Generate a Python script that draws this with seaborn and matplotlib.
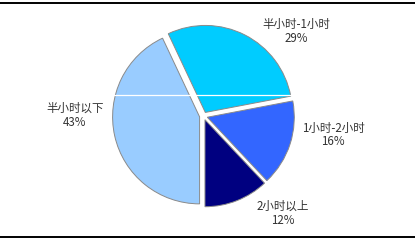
import matplotlib
matplotlib.use("Agg")
import matplotlib.pyplot as plt
import seaborn as sns

sns.set_style("white")
plt.rcParams['font.family'] = ['Noto Sans CJK SC', 'DejaVu Sans']

# Data (clockwise from just left of 12 o'clock)
categories = ["半小时-1小时", "1小时-2小时", "2小时以上", "半小时以下"]
shares = [29, 16, 12, 43]
colors = ["#00CCFF", "#3366FF", "#000080", "#99CCFF"]

W, H = 415, 240
fig = plt.figure(figsize=(W / 100, H / 100), dpi=100)
ax = fig.add_axes([0, 0, 1, 1])

cx, cy, r = 203.5, H - 116, 87
ax.pie(shares, colors=colors, startangle=115.2, counterclock=False,
       center=(cx, cy), radius=r, explode=[4] * len(shares),
       wedgeprops=dict(edgecolor="#8a8a8a", linewidth=0.7), frame=True)

ax.set_xlim(0, W)
ax.set_ylim(0, H)
ax.set_aspect('auto')
ax.axis('off')

# label positions in pixel coordinates (x, y from top)
label_pos = [(296, 31.5), (333, 135), (283, 213.5), (75, 115.5)]
for name, val, (lx, ly) in zip(categories, shares, label_pos):
    ax.text(lx, H - ly, f"{name}\n{val}%", ha="center", va="center",
            fontsize=8.3, color="#333333", linespacing=1.05)

# frame lines and artifact white line
ax.plot([0, W], [H - 2.5, H - 2.5], color="black", lw=1.4, clip_on=False)
ax.plot([0, W], [H - 236.5, H - 236.5], color="black", lw=1.4, clip_on=False)
ax.plot([110, 300], [H - 95, H - 95], color="white", lw=0.9)

fig.savefig("out.png", dpi=100, facecolor="white")
